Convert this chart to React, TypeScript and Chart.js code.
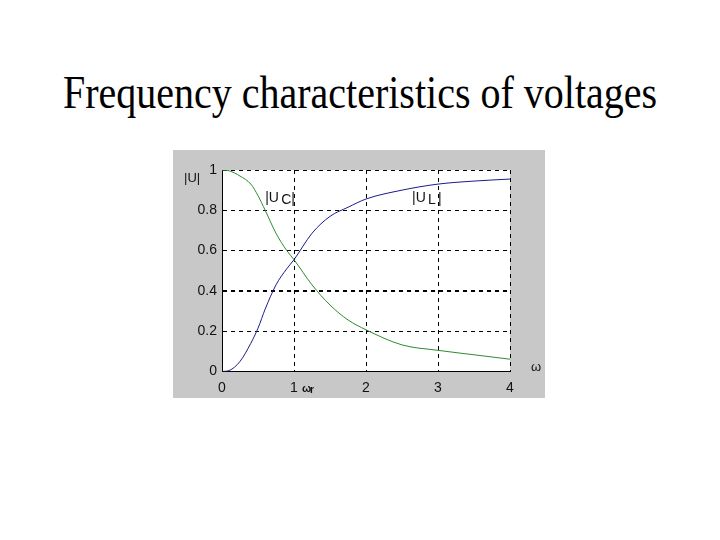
import React, { useEffect, useRef } from "react";
import { Chart, registerables } from "chart.js";

Chart.register(...registerables);

const omega = [0, 0.1, 0.25, 0.4, 0.5, 0.6, 0.75, 0.9, 1, 1.25, 1.5, 1.75, 2, 2.5, 3, 3.5, 4];
const uC = [1, 0.996, 0.97, 0.93, 0.873, 0.8, 0.686, 0.6, 0.555, 0.43, 0.33, 0.256, 0.207, 0.132, 0.105, 0.083, 0.061];
const uL = [0, 0.005, 0.05, 0.14, 0.215, 0.31, 0.43, 0.51, 0.555, 0.686, 0.77, 0.815, 0.856, 0.9, 0.93, 0.945, 0.955];
const xTicks = [0, 1, 2, 3, 4];
const yTicks = [0, 0.2, 0.4, 0.6, 0.8, 1];

const toPts = (ys: number[]) => omega.map((x, i) => ({ x, y: ys[i] }));

const FONT = "'Liberation Sans', Arial, sans-serif";

const annotations = {
  id: "annotations",
  afterDraw(chart: any) {
    const { ctx, scales } = chart;
    const xs = scales.x;
    const ys = scales.y;
    ctx.save();
    ctx.fillStyle = "#111";
    ctx.font = `13px ${FONT}`;
    ctx.textBaseline = "alphabetic";
    ctx.textAlign = "left";
    // |U| label
    ctx.fillText("|U|", 11, 32);
    // omega axis label
    ctx.fillText("ω", xs.right + 21, ys.getPixelForValue(0) - 1);
    // omega_r
    ctx.font = `bold 11px ${FONT}`;
    ctx.fillText("ω", xs.getPixelForValue(1) + 8, ys.bottom + 20.5);
    ctx.font = `bold 10px ${FONT}`;
    ctx.fillText("r", xs.getPixelForValue(1) + 16, ys.bottom + 21.5);
    // |U_C|
    ctx.font = `14px ${FONT}`;
    const cx = xs.getPixelForValue(0.6);
    const cy = ys.getPixelForValue(0.841);
    ctx.fillText("|U", cx, cy);
    ctx.fillText("C", cx + 16, cy + 2);
    ctx.fillText("|", cx + 26, cy + 1);
    // |U_L|
    const lx = xs.getPixelForValue(2.64);
    const ly = ys.getPixelForValue(0.841);
    ctx.fillText("|U", lx, ly);
    ctx.fillText("L", lx + 16, ly + 2);
    ctx.fillText("|", lx + 26, ly + 1);
    ctx.restore();
  },
};

const plotBg = {
  id: "plotBg",
  beforeDraw(chart: any) {
    const { ctx, chartArea, width, height } = chart;
    ctx.save();
    ctx.fillStyle = "#c8c8c8";
    ctx.fillRect(0, 0, width, height);
    ctx.fillStyle = "#ffffff";
    ctx.fillRect(chartArea.left, chartArea.top, chartArea.right - chartArea.left, chartArea.bottom - chartArea.top);
    ctx.restore();
  },
};

export default function App() {
  const ref = useRef<HTMLCanvasElement | null>(null);
  useEffect(() => {
    if (!ref.current) return;
    const chart = new Chart(ref.current, {
      type: "line",
      data: {
        datasets: [
          {
            label: "|U_C|",
            data: toPts(uC),
            borderColor: "#2f8a2f",
            borderWidth: 1,
            pointRadius: 0,
            cubicInterpolationMode: "monotone",
          },
          {
            label: "|U_L|",
            data: toPts(uL),
            borderColor: "#1c1c8a",
            borderWidth: 1,
            pointRadius: 0,
            cubicInterpolationMode: "monotone",
          },
        ],
      },
      options: {
        animation: false,
        responsive: false,
        devicePixelRatio: 1,
        layout: { padding: { top: 20, right: 35, left: 0, bottom: 0 } },
        plugins: { legend: { display: false }, tooltip: { enabled: false }, title: { display: false } },
        scales: {
          x: {
            type: "linear",
            min: 0,
            max: 4,
            afterBuildTicks: (s: any) => {
              s.ticks = xTicks.map((v) => ({ value: v }));
            },
            afterFit: (s: any) => {
              s.height = 26.5;
            },
            ticks: {
              color: "#111",
              font: { family: FONT, size: 14 },
              padding: 8,
            },
            grid: { color: "#000", lineWidth: 1, drawTicks: false },
            border: { display: true, color: "#000", width: 1, dash: [4, 4] },
          },
          y: {
            type: "linear",
            min: 0,
            max: 1,
            afterBuildTicks: (s: any) => {
              s.ticks = yTicks.map((v) => ({ value: v }));
            },
            afterFit: (s: any) => {
              s.width = 49;
            },
            ticks: {
              color: "#111",
              font: { family: FONT, size: 14 },
              padding: 5,
              callback: (v: any) => String(v),
            },
            grid: {
              color: "#000",
              lineWidth: (c: any) => (c.tick && c.tick.value === 0.4 ? 2 : 1),
              drawTicks: false,
            },
            border: { display: true, color: "#000", width: 1, dash: [4, 4] },
          },
        },
      } as any,
      plugins: [plotBg, annotations],
    });
    return () => chart.destroy();
  }, []);

  return (
    <div style={{ position: "absolute", left: 0, top: 0, width: 720, height: 540, background: "#fff" }}>
      <div
        style={{
          position: "absolute",
          left: 0,
          top: 72,
          width: 720,
          height: 46,
          textAlign: "center",
          fontFamily: "'Liberation Serif', 'Times New Roman', serif",
          fontSize: 40,
          color: "#000",
          lineHeight: "46px",
          transform: "scaleY(1.15)",
          transformOrigin: "50% 36px",
          whiteSpace: "nowrap",
        }}
      >
        Frequency characteristics of voltages
      </div>
      <canvas ref={ref} width={372} height={248} style={{ position: "absolute", left: 173, top: 150, width: 372, height: 248 }} />
    </div>
  );
}
